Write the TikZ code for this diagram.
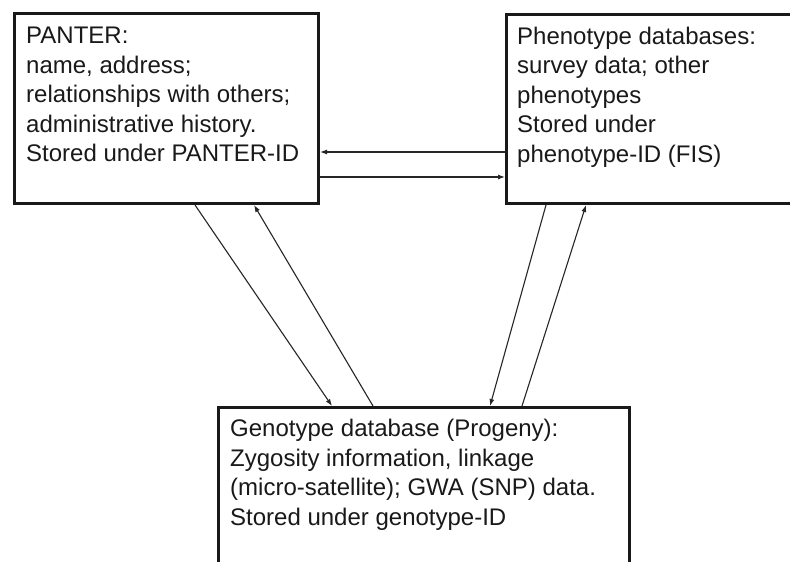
\documentclass[tikz,border=0pt]{standalone}
\usepackage{fontspec}
\setmainfont{Liberation Sans}
\usetikzlibrary{arrows.meta}
\begin{document}
\begin{tikzpicture}[x=1pt,y=-1pt,
  dbbox/.style={draw=black!90, line width=3pt, anchor=north west, inner sep=0pt, fill=white},
  boxtext/.style={anchor=north west, inner sep=0pt, align=left, text=black!90,
    font=\fontsize{24}{29.5}\selectfont},
  arr/.style={line width=1.1pt, draw=black!85, -{Latex[length=7pt,width=5pt]}}]
\useasboundingbox (0,0) rectangle (790,562);
\fill[white] (0,0) rectangle (790,562);
\begin{scope}
\clip (0,0) rectangle (790,562);
\node[dbbox, minimum width=304pt, minimum height=190pt] (p) at (13,12) {};
\node[dbbox, minimum width=300pt, minimum height=189pt] (f) at (505,13) {};
\node[dbbox, minimum width=411pt, minimum height=180pt] (g) at (217,406) {};
\node[boxtext] (pt) at ([xshift=13pt,yshift=-10.7pt]p.north west)
  {\strut PANTER:\\name, address;\\relationships with others;\\administrative history.\\Stored under PANTER-ID};
\node[boxtext] (ft) at ([xshift=12pt,yshift=-10.4pt]f.north west)
  {\strut Phenotype databases:\\survey data; other\\phenotypes\\Stored under\\phenotype-ID (FIS)};
\node[boxtext] (gt) at ([xshift=13pt,yshift=-10pt]g.north west)
  {\strut Genotype database (Progeny):\\Zygosity information, linkage\\(micro-satellite); GWA (SNP) data.\\Stored under genotype-ID};
\draw[arr] (f.west |- 0,152) -- (p.east |- 0,152);
\draw[arr] (p.east |- 0,177) -- (f.west |- 0,177);
\draw[arr] ([xshift=182pt]p.south west) -- ([xshift=115pt]g.north west);
\draw[arr] ([xshift=156pt]g.north west) -- ([xshift=241pt]p.south west);
\draw[arr] ([xshift=41pt]f.south west) -- ([xshift=273pt]g.north west);
\draw[arr] ([xshift=305pt]g.north west) -- ([xshift=81pt]f.south west);
\end{scope}
\end{tikzpicture}
\end{document}
